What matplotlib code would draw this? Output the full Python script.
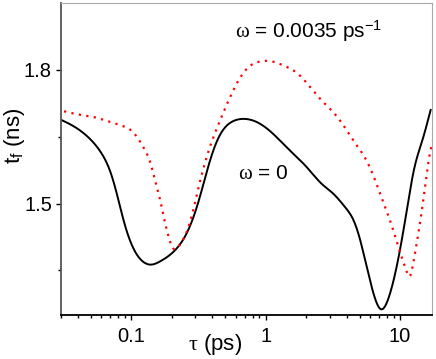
import matplotlib.pyplot as plt
import numpy as np

plt.rcParams['font.family'] = ['Liberation Sans', 'DejaVu Sans']
plt.rcParams['mathtext.fontset'] = 'custom'
plt.rcParams['mathtext.rm'] = 'Liberation Serif'
plt.rcParams['mathtext.default'] = 'regular'

# omega = 0 (solid black)
tau0 = [0.03, 0.0375, 0.047, 0.0591, 0.0703, 0.0787, 0.0883, 0.1047, 0.1208, 0.1394,
        0.1655, 0.208, 0.261, 0.319, 0.379, 0.45, 0.565, 0.69, 0.844, 1.122,
        1.493, 1.99, 2.64, 3.14, 3.95, 4.42, 4.96, 5.56, 6.23, 7.2, 8.3, 9.57, 11.05,
        12.7, 14.7, 16.9]
tf0 = [1.688, 1.673, 1.651, 1.616, 1.569, 1.518, 1.459, 1.397, 1.371, 1.363,
       1.371, 1.393, 1.436, 1.508, 1.589, 1.650, 1.684, 1.690, 1.684, 1.658,
       1.621, 1.584, 1.543, 1.524, 1.490, 1.468, 1.427, 1.367, 1.307, 1.263, 1.292,
       1.367, 1.472, 1.576, 1.643, 1.710]

# omega = 0.0035 ps^-1 (dotted red)
tau1 = [0.0316, 0.042, 0.0527, 0.0682, 0.0883, 0.1017, 0.114, 0.128, 0.139, 0.152,
        0.1637, 0.175, 0.1876, 0.202, 0.225, 0.261, 0.284, 0.319, 0.379, 0.45, 0.533,
        0.633, 0.751, 0.92, 1.062, 1.33, 1.774, 2.23, 2.8, 3.14, 3.84, 4.55, 5.41,
        6.42, 7.39, 8.54, 9.85, 11.05, 11.83, 12.7, 14.2, 15.5, 16.9, 17.6]
tf1 = [1.707, 1.699, 1.694, 1.684, 1.673, 1.662, 1.643, 1.617, 1.591, 1.546,
       1.509, 1.468, 1.431, 1.402, 1.404, 1.440, 1.476, 1.540, 1.621, 1.681, 1.733,
       1.778, 1.807, 1.819, 1.820, 1.811, 1.789, 1.755, 1.722, 1.707, 1.673, 1.639, 1.606,
       1.558, 1.509, 1.457, 1.397, 1.352, 1.337, 1.375, 1.464, 1.546, 1.621, 1.639]


def spline(xs, ys, n=600):
    # natural cubic spline in log10(tau)
    x = np.log10(xs)
    y = np.array(ys)
    k = len(x)
    h = np.diff(x)
    A = np.zeros((k, k))
    b = np.zeros(k)
    A[0, 0] = A[-1, -1] = 1
    for i in range(1, k - 1):
        A[i, i - 1] = h[i - 1]
        A[i, i] = 2 * (h[i - 1] + h[i])
        A[i, i + 1] = h[i]
        b[i] = 6 * ((y[i + 1] - y[i]) / h[i] - (y[i] - y[i - 1]) / h[i - 1])
    M = np.linalg.solve(A, b)
    g = np.linspace(x[0], x[-1], n)
    j = np.clip(np.searchsorted(x, g) - 1, 0, k - 2)
    t1 = x[j + 1] - g
    t0 = g - x[j]
    hj = h[j]
    out = (M[j] * t1**3 + M[j + 1] * t0**3) / (6 * hj) \
        + (y[j] / hj - M[j] * hj / 6) * t1 + (y[j + 1] / hj - M[j + 1] * hj / 6) * t0
    return 10**g, out


fig = plt.figure(figsize=(4.36, 3.59), dpi=100)
ax = fig.add_axes([61 / 436, 1 - 315 / 359, (432 - 61) / 436, (315 - 3) / 359])

x0, y0 = spline(tau0, tf0)
x1, y1 = spline(tau1, tf1)
ax.plot(x0, y0, color='black', lw=1.4)
ax.plot(x1, y1, color='red', lw=1.6, ls=(0, (1, 2.4)))

ax.set_xscale('log')
ax.set_xlim(0.03, 17.3)
ax.set_ylim(1.25, 1.95)
ax.set_xticks([0.1, 1, 10])
ax.set_xticklabels(['0.1', '1', '10'])
ax.set_yticks([1.5, 1.8])
ax.set_yticklabels(['1.5', '1.8'])
ax.set_yticks([1.35, 1.65], minor=True)
ax.tick_params(which='both', direction='out', labelsize=14.5)
ax.tick_params(which='major', length=3.5, width=1)
ax.tick_params(which='minor', length=2, width=1)
ax.tick_params(axis='x', which='minor', labelbottom=False)
ax.tick_params(axis='x', pad=5)
ax.tick_params(axis='y', pad=3)

for s in ['top', 'right']:
    ax.spines[s].set_color('#aaaaaa')
ax.spines['left'].set_color('#555555')
ax.spines['left'].set_linewidth(1.3)
ax.spines['bottom'].set_linewidth(1.3)

ax.set_xlabel(r'$\mathrm{\tau}$ (ps)', fontsize=16)
ax.set_ylabel(r't$_f$ (ns)', fontsize=16)
ax.xaxis.label.set_va('center')
ax.yaxis.label.set_va('center')
ax.xaxis.set_label_coords(0.414, -0.096)
ax.yaxis.set_label_coords(-0.124, 0.574)

ax.text(0.668, 0.889, r'$\mathrm{\omega}$ = 0.0035 ps$^{-1}$', transform=ax.transAxes,
        ha='center', va='baseline', fontsize=15)
ax.text(0.544, 0.436, r'$\mathrm{\omega}$ = 0', transform=ax.transAxes,
        ha='center', va='baseline', fontsize=15)

fig.savefig('out.png', dpi=100)
